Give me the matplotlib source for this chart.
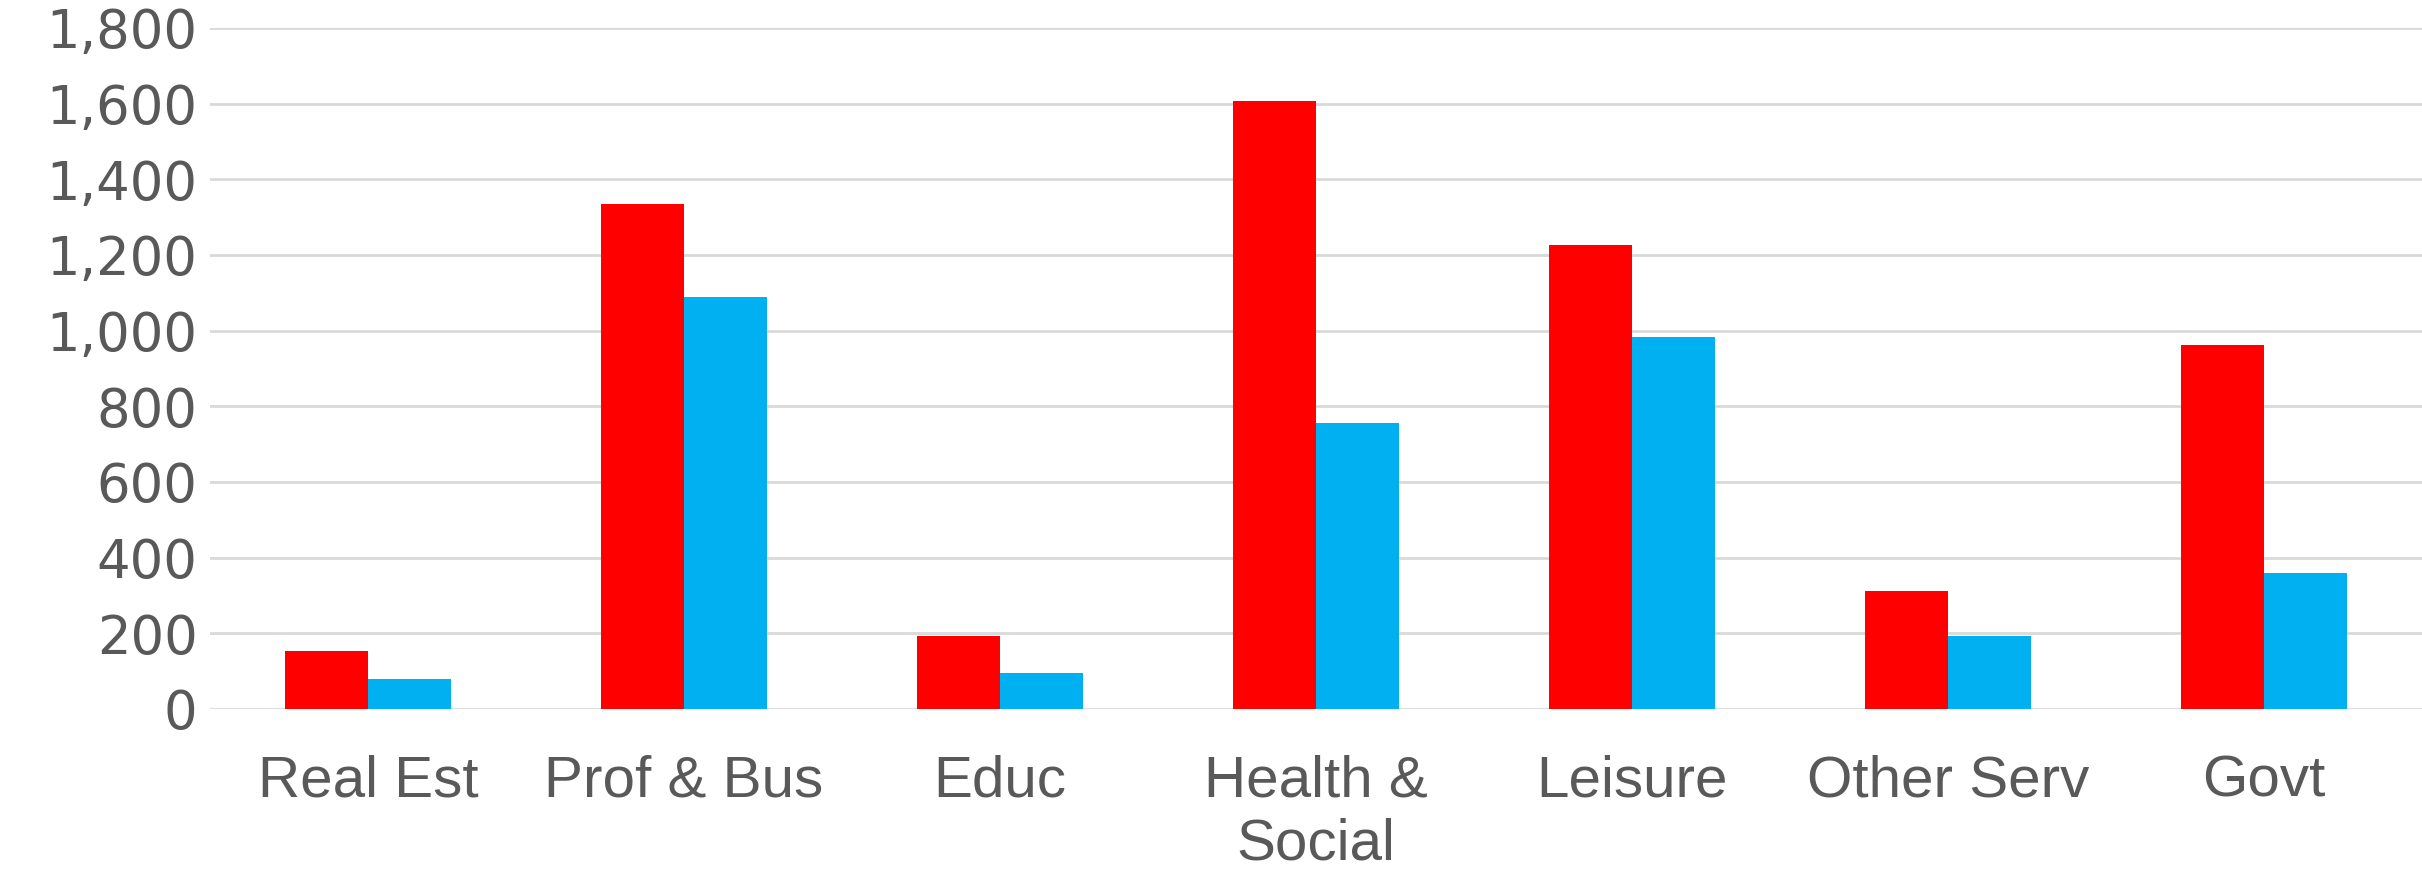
import numpy as np
import matplotlib
matplotlib.use("Agg")
import matplotlib.pyplot as plt

# data
categories = ["Real Est", "Prof & Bus", "Educ", "Health &\nSocial", "Leisure", "Other Serv", "Govt"]
series_red = [152, 1335, 192, 1607, 1227, 311, 962]
series_blue = [80, 1090, 94, 757, 984, 194, 359]
y_ticks = [0, 200, 400, 600, 800, 1000, 1200, 1400, 1600, 1800]

RED = "#FF0000"
BLUE = "#00B0F0"
TEXT = "#595959"
GRID = "#D9D9D9"

fig = plt.figure(figsize=(24.22, 8.71), dpi=100)
ax = fig.add_axes([0.0867, 0.186, 0.9133, 0.782])

x = np.arange(len(categories))
w = 0.264
ax.bar(x - w / 2, series_red, width=w, color=RED, zorder=3)
ax.bar(x + w / 2, series_blue, width=w, color=BLUE, zorder=3)

ax.set_xlim(-0.5, len(categories) - 0.5)
ax.set_ylim(0, 1800)
ax.set_yticks(y_ticks)
ax.set_yticklabels([f"{v:,}" for v in y_ticks], fontsize=38, color=TEXT,
                   family="DejaVu Sans")
ax.set_xticks(x)
ax.set_xticklabels(categories, fontsize=42, color=TEXT,
                   family=["Liberation Sans", "DejaVu Sans"],
                   linespacing=1.2)
ax.tick_params(axis="y", length=0, pad=9)
ax.tick_params(axis="x", length=0, pad=33)

ax.yaxis.grid(True, color=GRID, lw=2, zorder=0)
ax.set_axisbelow(True)
for s in ax.spines.values():
    s.set_visible(False)

fig.savefig("out.png", dpi=100)
